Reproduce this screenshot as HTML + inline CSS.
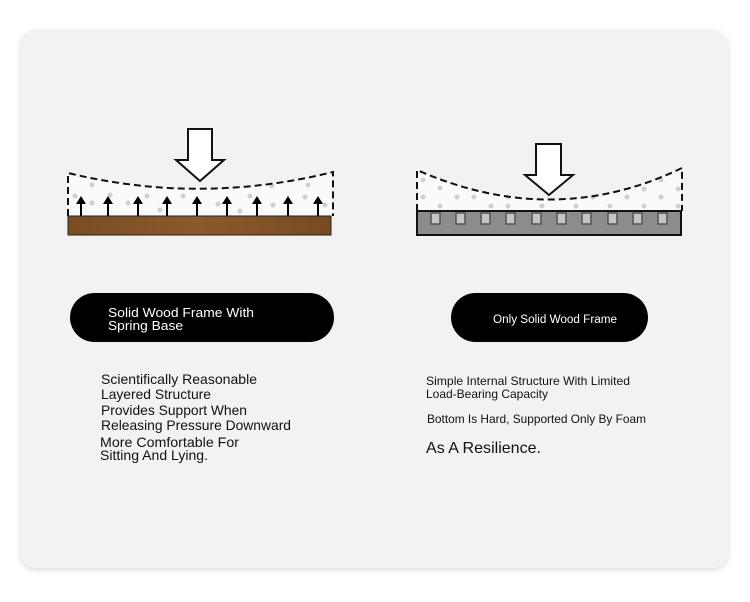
<!DOCTYPE html>
<html><head><meta charset="utf-8"><style>
html,body{margin:0;padding:0;background:#fff;width:750px;height:602px;overflow:hidden}
svg{display:block}
text{font-family:"Liberation Sans",sans-serif}
</style></head><body>
<svg width="750" height="602" viewBox="0 0 750 602">
<defs>
<filter id="sh" x="-5%" y="-5%" width="110%" height="110%"><feDropShadow dx="0" dy="2" stdDeviation="3" flood-color="#000" flood-opacity="0.15"/></filter>
<linearGradient id="wood" x1="0" y1="0" x2="1" y2="0">
<stop offset="0" stop-color="#7a4c22"/><stop offset="0.5" stop-color="#8a5a2c"/><stop offset="1" stop-color="#774a20"/></linearGradient>
</defs>
<rect x="20" y="30" width="708" height="538" rx="16" fill="#f2f2f2" filter="url(#sh)"/>

<!-- Left diagram -->
<path d="M68,173 Q200,205 333,172 L333,216 L68,216 Z" fill="#fafafa"/>
<g fill="#d0d0d0">
<circle cx="92" cy="185" r="2.5"/><circle cx="75" cy="196" r="2.5"/><circle cx="92" cy="203" r="2.5"/><circle cx="110" cy="195" r="2.5"/><circle cx="128" cy="203" r="2.5"/><circle cx="147" cy="196" r="2.5"/><circle cx="160" cy="210" r="2.5"/><circle cx="183" cy="196" r="2.5"/><circle cx="218" cy="204" r="2.5"/><circle cx="250" cy="196" r="2.5"/><circle cx="273" cy="205" r="2.5"/><circle cx="272" cy="186" r="2.5"/><circle cx="305" cy="197" r="2.5"/><circle cx="308" cy="185" r="2.5"/><circle cx="325" cy="205" r="2.5"/><circle cx="240" cy="211" r="2.5"/>
</g>
<path d="M68,216 L68,173 Q200,205 333,172 L333,216" fill="none" stroke="#111" stroke-width="2" stroke-dasharray="7,4"/>
<rect x="68" y="216" width="263" height="19" fill="url(#wood)" stroke="#222" stroke-width="1"/>
<g stroke="#000" stroke-width="2" fill="#000">
<line x1="81" y1="216" x2="81" y2="202"/><line x1="108" y1="216" x2="108" y2="202"/><line x1="138" y1="216" x2="138" y2="202"/><line x1="167" y1="216" x2="167" y2="202"/><line x1="197" y1="216" x2="197" y2="202"/><line x1="227" y1="216" x2="227" y2="202"/><line x1="257" y1="216" x2="257" y2="202"/><line x1="288" y1="216" x2="288" y2="202"/><line x1="318" y1="216" x2="318" y2="202"/>
</g>
<g fill="#000">
<path d="M76,204 L81,196 L86,204Z"/><path d="M103,204 L108,196 L113,204Z"/><path d="M133,204 L138,196 L143,204Z"/><path d="M162,204 L167,196 L172,204Z"/><path d="M192,204 L197,196 L202,204Z"/><path d="M222,204 L227,196 L232,204Z"/><path d="M252,204 L257,196 L262,204Z"/><path d="M283,204 L288,196 L293,204Z"/><path d="M313,204 L318,196 L323,204Z"/>
</g>
<path d="M188,129 L212,129 L212,160 L224,160 L200,181 L176,160 L188,160 Z" fill="#fff" stroke="#111" stroke-width="2"/>

<!-- Right diagram -->
<path d="M417,170 Q553,230 682,168 L682,211 L417,211 Z" fill="#fafafa"/>
<g fill="#d0d0d0">
<circle cx="423" cy="180" r="2.5"/><circle cx="440" cy="188" r="2.5"/><circle cx="423" cy="197" r="2.5"/><circle cx="440" cy="206" r="2.5"/><circle cx="457" cy="197" r="2.5"/><circle cx="491" cy="206" r="2.5"/><circle cx="474" cy="197" r="2.5"/><circle cx="508" cy="197" r="2.5"/><circle cx="508" cy="206" r="2.5"/><circle cx="542" cy="206" r="2.5"/><circle cx="576" cy="206" r="2.5"/><circle cx="610" cy="206" r="2.5"/><circle cx="627" cy="197" r="2.5"/><circle cx="644" cy="189" r="2.5"/><circle cx="661" cy="180" r="2.5"/><circle cx="661" cy="197" r="2.5"/><circle cx="678" cy="189" r="2.5"/><circle cx="644" cy="206" r="2.5"/><circle cx="678" cy="206" r="2.5"/><circle cx="593" cy="197" r="2.5"/>
</g>
<path d="M417,211 L417,170 Q553,230 682,168 L682,211" fill="none" stroke="#111" stroke-width="2" stroke-dasharray="7,4"/>
<rect x="417" y="211" width="264" height="24" fill="#8c8c8c" stroke="#111" stroke-width="2"/>
<g fill="#c4c4c4" stroke="#555" stroke-width="1.5">
<rect x="431" y="213" width="9" height="11"/><rect x="456" y="213" width="9" height="11"/><rect x="481" y="213" width="9" height="11"/><rect x="506" y="213" width="9" height="11"/><rect x="532" y="213" width="9" height="11"/><rect x="557" y="213" width="9" height="11"/><rect x="582" y="213" width="9" height="11"/><rect x="608" y="213" width="9" height="11"/><rect x="633" y="213" width="9" height="11"/><rect x="658" y="213" width="9" height="11"/>
</g>
<path d="M536,144 L561,144 L561,175 L573,175 L549,195 L525,175 L536,175 Z" fill="#fff" stroke="#111" stroke-width="2"/>

<!-- Pills -->
<rect x="70" y="293" width="264" height="49" rx="24.5" fill="#000"/>
<text x="108" y="317" font-size="13" fill="#fff" textLength="146" lengthAdjust="spacingAndGlyphs">Solid Wood Frame With</text>
<text x="108" y="330" font-size="13" fill="#fff" textLength="75" lengthAdjust="spacingAndGlyphs">Spring Base</text>
<rect x="451" y="293" width="197" height="49" rx="24.5" fill="#000"/>
<text x="493" y="323" font-size="11.5" fill="#fff" textLength="124" lengthAdjust="spacingAndGlyphs">Only Solid Wood Frame</text>

<!-- Left text -->
<g font-size="14" fill="#111">
<text x="101" y="384" textLength="156" lengthAdjust="spacingAndGlyphs">Scientifically Reasonable</text>
<text x="101" y="399" textLength="110" lengthAdjust="spacingAndGlyphs">Layered Structure</text>
<text x="101" y="415" textLength="146" lengthAdjust="spacingAndGlyphs">Provides Support When</text>
<text x="101" y="430" textLength="190" lengthAdjust="spacingAndGlyphs">Releasing Pressure Downward</text>
<text x="100" y="447" textLength="139" lengthAdjust="spacingAndGlyphs">More Comfortable For</text>
<text x="100" y="460" textLength="108" lengthAdjust="spacingAndGlyphs">Sitting And Lying.</text>
</g>
<!-- Right text -->
<g font-size="12" fill="#111">
<text x="426" y="385" textLength="204" lengthAdjust="spacingAndGlyphs">Simple Internal Structure With Limited</text>
<text x="426" y="398" textLength="122" lengthAdjust="spacingAndGlyphs">Load-Bearing Capacity</text>
<text x="427" y="423" textLength="219" lengthAdjust="spacingAndGlyphs">Bottom Is Hard, Supported Only By Foam</text>
</g>
<text x="426" y="453" font-size="16" fill="#111" textLength="115" lengthAdjust="spacingAndGlyphs">As A Resilience.</text>
</svg>
</body></html>
